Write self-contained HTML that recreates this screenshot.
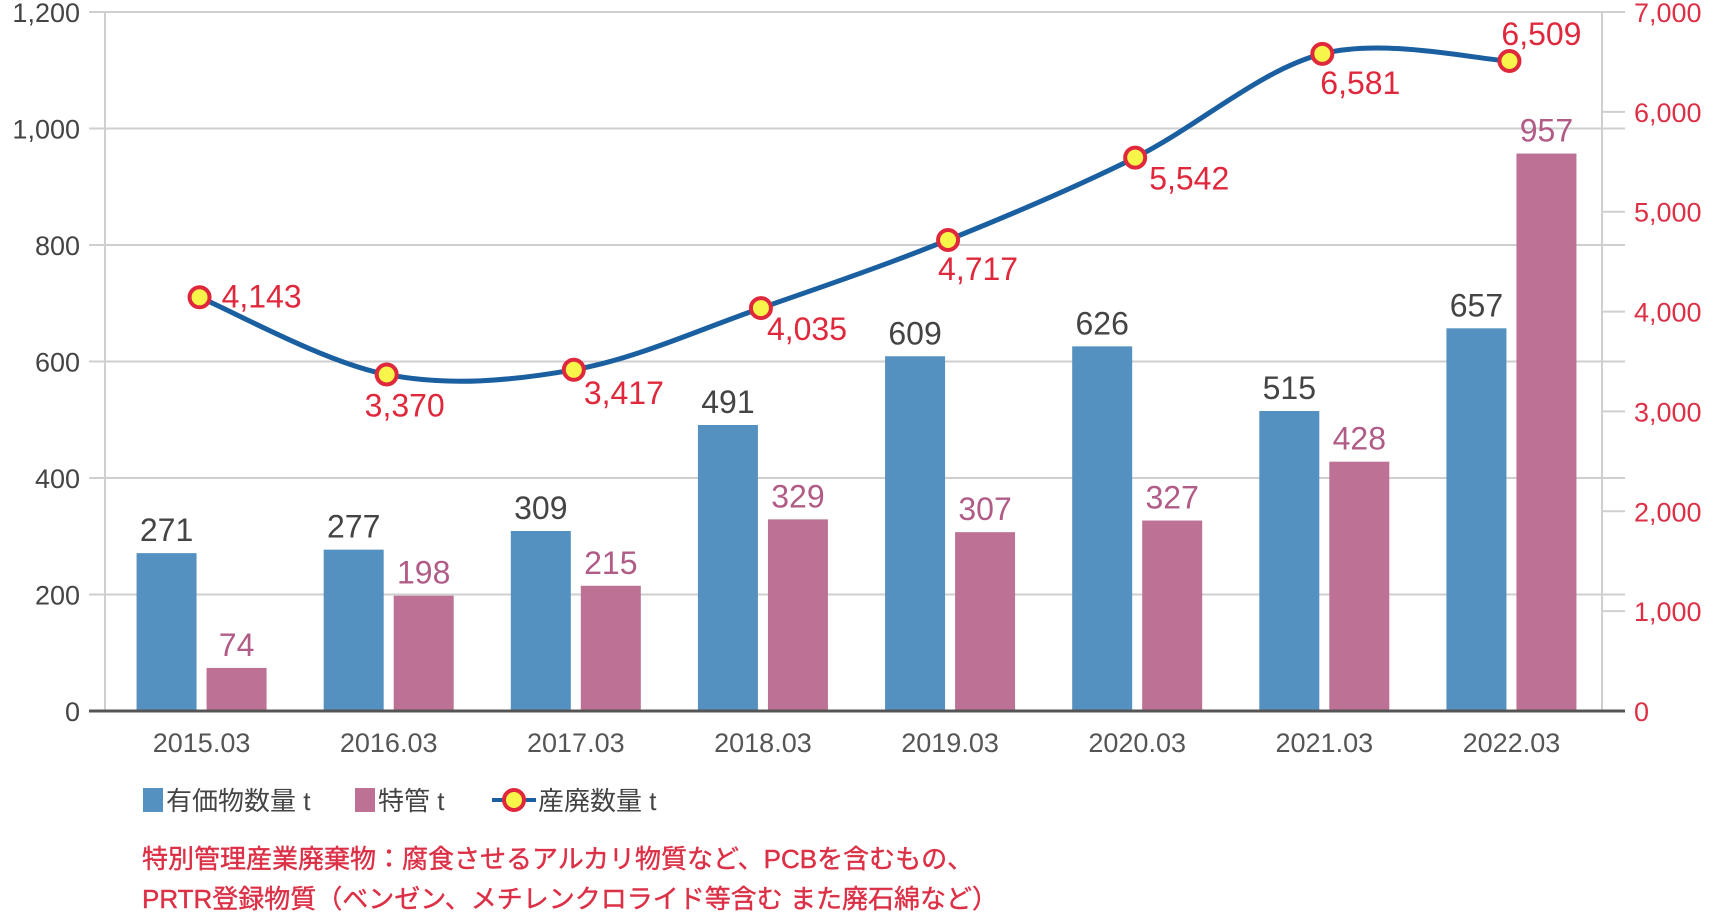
<!DOCTYPE html>
<html><head><meta charset="utf-8">
<style>
body{margin:0;background:#fff;}
svg{display:block;font-family:"Liberation Sans","Noto Sans CJK JP",sans-serif;}
</style></head>
<body>
<svg id="chart" width="1720" height="916" viewBox="0 0 1720 916" xmlns="http://www.w3.org/2000/svg">
<g id="grid"></g>
<g id="bars"></g>
<g id="line"></g>
<g id="axes"></g>
<g id="legend">
  <rect x="143" y="788" width="20" height="24" fill="#5591c0"/>
  <text x="166" y="810" font-size="26" fill="#444">有価物数量 t</text>
  <rect x="355" y="788" width="20" height="24" fill="#bd7194"/>
  <text x="378" y="810" font-size="26" fill="#444">特管 t</text>
  <line x1="492" y1="800" x2="536" y2="800" stroke="#1a5fa0" stroke-width="4"/>
  <circle cx="514" cy="800" r="10" fill="#f7f54a" stroke="#e0283c" stroke-width="4"/>
  <text x="538" y="810" font-size="26" fill="#444">産廃数量 t</text>
</g>
<text x="142" y="868" font-size="26" fill="#dc3046" stroke="#dc3046" stroke-width="0.4">特別管理産業廃棄物：腐食させるアルカリ物質など、PCBを含むもの、</text>
<text x="142" y="908" font-size="26" fill="#dc3046" stroke="#dc3046" stroke-width="0.4">PRTR登録物質（ベンゼン、メチレンクロライド等含む また廃石綿など）</text>
</svg>
<script>
const categories=["2015.03","2016.03","2017.03","2018.03","2019.03","2020.03","2021.03","2022.03"];
const valuables=[271,277,309,491,609,626,515,657];
const special=[74,198,215,329,307,327,428,957];
const industrial=[4143,3370,3417,4035,4717,5542,6581,6509];
const leftTicks=[0,200,400,600,800,1000,1200];
const rightTicks=[0,1000,2000,3000,4000,5000,6000,7000];
// label placement for line values: [dx, dy, anchor]
const lineLabelPos=[[22,10,"start"],[18,42,"middle"],[10,34,"start"],[6,32,"start"],[30,40,"middle"],[14,32,"start"],[38,40,"middle"],[32,-16,"middle"]];

const NS="http://www.w3.org/2000/svg";
const X0=105,X1=1602,Y0=711,YT=12;
const yL=v=>Y0-(v/1200)*(Y0-YT);
const yR=v=>Y0-(v/7000)*(Y0-YT);
const band=(X1-X0)/categories.length;
const xC=i=>X0+band*(i+0.5);
function mk(tag,attrs,parent){const e=document.createElementNS(NS,tag);for(const k in attrs)e.setAttribute(k,attrs[k]);parent.appendChild(e);return e;}
const grid=document.getElementById('grid'),bars=document.getElementById('bars'),lineG=document.getElementById('line'),axes=document.getElementById('axes');

leftTicks.forEach(v=>{
  const y=yL(v);
  if(v>0){const l=mk('line',{x1:89,x2:1625,y1:y,y2:y,stroke:'#cfcfcf','stroke-width':2},grid);
  
  }
  const t=mk('text',{x:80,y:y+10,'text-anchor':'end','font-size':27,fill:'#444'},axes);
  t.textContent=v.toLocaleString('en-US');
  
  
});
rightTicks.forEach(v=>{
  const y=yR(v);
  if(v>0){const l=mk('line',{x1:1602,x2:1625,y1:y,y2:y,stroke:'#cfcfcf','stroke-width':2},grid);
  
  }
  const t=mk('text',{x:1634,y:y+10,'font-size':27,fill:'#dc3046'},axes);
  t.textContent=v.toLocaleString('en-US');
  
  
});
let a=mk('line',{x1:X0,x2:X0,y1:YT,y2:Y0,stroke:'#cfcfcf','stroke-width':2},grid);


a=mk('line',{x1:X1,x2:X1,y1:YT,y2:Y0,stroke:'#cfcfcf','stroke-width':2},grid);



categories.forEach((c,i)=>{
  const cx=xC(i);
  const b=mk('rect',{x:cx-62,y:yL(valuables[i]),width:60,height:Y0-yL(valuables[i]),fill:'#5591c0'},bars);
  
  
  const p=mk('rect',{x:cx+8,y:yL(special[i]),width:60,height:Y0-yL(special[i]),fill:'#bd7194'},bars);
  
  
  const t1=mk('text',{x:cx-32,y:yL(valuables[i])-12,'text-anchor':'middle','font-size':32,fill:'#444'},bars);
  t1.textContent=valuables[i];
  
  
  const t2=mk('text',{x:cx+38,y:yL(special[i])-12,'text-anchor':'middle','font-size':32,fill:'#b05c86'},bars);
  t2.textContent=special[i];
  
  
  const ct=mk('text',{x:cx+3,y:752,'text-anchor':'middle','font-size':27,fill:'#555'},axes);
  ct.textContent=c;
  
  
});
a=mk('line',{x1:89,x2:1625,y1:Y0,y2:Y0,stroke:'#555','stroke-width':3},axes);



const pts=industrial.map((v,i)=>[xC(i)+1,yR(v)]);
let d='M'+pts[0][0]+','+pts[0][1];
for(let i=0;i<pts.length-1;i++){
  const p0=pts[Math.max(0,i-1)],p1=pts[i],p2=pts[i+1],p3=pts[Math.min(pts.length-1,i+2)];
  const c1=[p1[0]+(p2[0]-p0[0])/6,p1[1]+(p2[1]-p0[1])/6];
  const c2=[p2[0]-(p3[0]-p1[0])/6,p2[1]-(p3[1]-p1[1])/6];
  d+=` C${c1[0]},${c1[1]} ${c2[0]},${c2[1]} ${p2[0]},${p2[1]}`;
}
const path=mk('path',{d:d,fill:'none',stroke:'#1a5fa0','stroke-width':5},lineG);


pts.forEach((p,i)=>{
  const c=mk('circle',{cx:p[0],cy:p[1],r:10,fill:'#f7f54a',stroke:'#e0283c','stroke-width':4},lineG);
  
  
  const lp=lineLabelPos[i];
  const t=mk('text',{x:p[0]+lp[0],y:p[1]+lp[1],'text-anchor':lp[2],'font-size':32,fill:'#e0283c'},lineG);
  t.textContent=industrial[i].toLocaleString('en-US');
  
  
});
</script>
</body></html>
